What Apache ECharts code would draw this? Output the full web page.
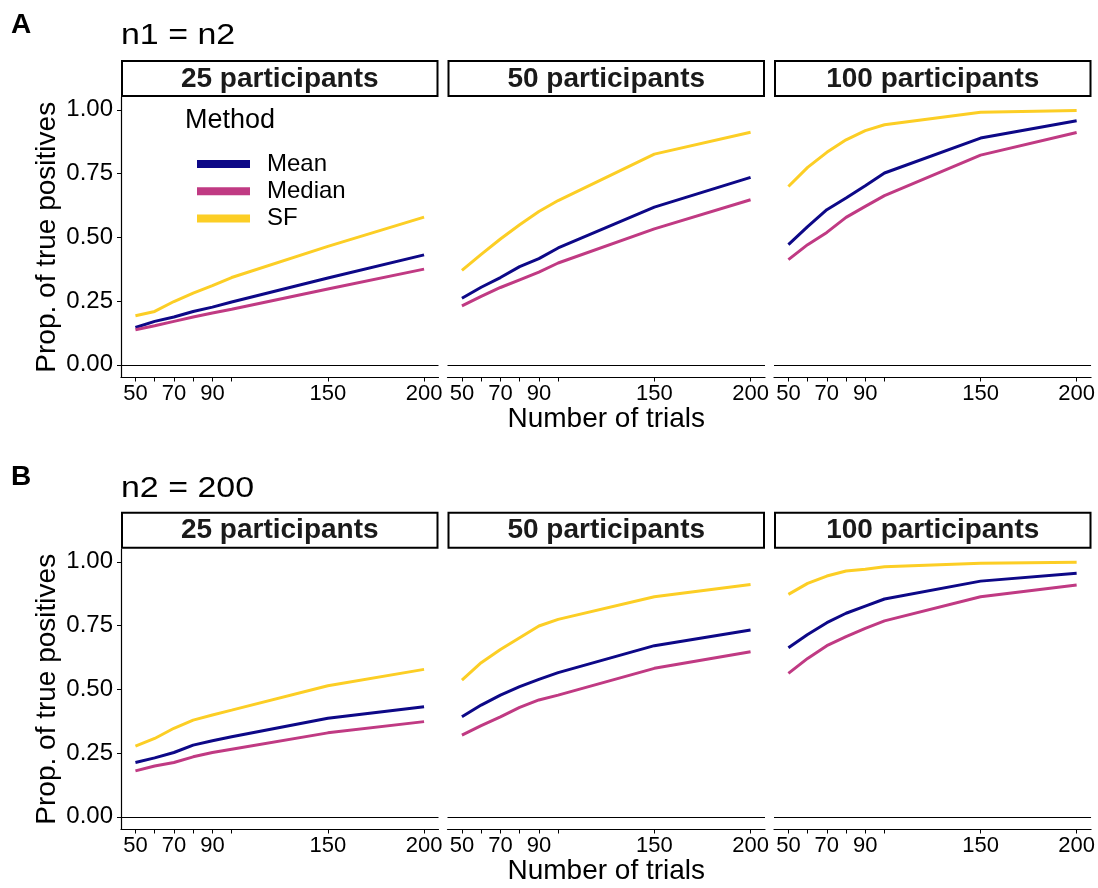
<!DOCTYPE html>
<html>
<head>
<meta charset="utf-8">
<script src="https://cdn.jsdelivr.net/npm/echarts@6/dist/echarts.min.js"></script>
<style>
html,body{margin:0;padding:0;background:#fff;}
#chart{width:1098px;height:888px;}
</style>
</head>
<body>
<div id="chart"></div>
<script>
// ---- data ----
const trials = [50, 60, 70, 80, 90, 100, 150, 200];
const xTickValues = [50, 60, 70, 80, 90, 100, 150, 200];
const xTickLabels = [50, 70, 90, 150, 200];
const yTickValues = [0, 0.25, 0.5, 0.75, 1];
const methods = ['Mean', 'Median', 'SF'];
const panelLabels = ['25 participants', '50 participants', '100 participants'];
const rowTags = ['A', 'B'];
const rowTitles = ['n1 = n2', 'n2 = 200'];

// Row A: n1 = n2
const a25Mean   = [0.146, 0.170, 0.187, 0.209, 0.226, 0.246, 0.340, 0.431];
const a25Median = [0.137, 0.153, 0.170, 0.187, 0.203, 0.218, 0.297, 0.375];
const a25SF     = [0.192, 0.209, 0.248, 0.281, 0.310, 0.342, 0.464, 0.579];
const a50Mean   = [0.261, 0.304, 0.342, 0.385, 0.416, 0.458, 0.618, 0.735];
const a50Median = [0.231, 0.268, 0.303, 0.333, 0.363, 0.399, 0.533, 0.647];
const a50SF     = [0.370, 0.433, 0.493, 0.549, 0.601, 0.644, 0.826, 0.912];
const a100Mean   = [0.471, 0.542, 0.608, 0.654, 0.702, 0.752, 0.889, 0.957];
const a100Median = [0.412, 0.471, 0.519, 0.578, 0.621, 0.663, 0.822, 0.911];
const a100SF     = [0.699, 0.774, 0.833, 0.882, 0.918, 0.941, 0.990, 0.997];
// Row B: n2 = 200
const b25Mean   = [0.213, 0.231, 0.252, 0.281, 0.298, 0.314, 0.386, 0.431];
const b25Median = [0.180, 0.199, 0.213, 0.235, 0.252, 0.265, 0.329, 0.373];
const b25SF     = [0.277, 0.307, 0.347, 0.379, 0.399, 0.418, 0.514, 0.578];
const b50Mean   = [0.392, 0.438, 0.477, 0.510, 0.539, 0.565, 0.671, 0.732];
const b50Median = [0.320, 0.357, 0.392, 0.429, 0.458, 0.477, 0.582, 0.647];
const b50SF     = [0.536, 0.604, 0.656, 0.702, 0.748, 0.774, 0.863, 0.911];
const b100Mean   = [0.663, 0.715, 0.761, 0.798, 0.826, 0.854, 0.924, 0.955];
const b100Median = [0.562, 0.621, 0.671, 0.706, 0.739, 0.768, 0.863, 0.909];
const b100SF     = [0.872, 0.915, 0.944, 0.964, 0.971, 0.980, 0.994, 0.998];

const panelData = [
  [[a25Mean, a25Median, a25SF], [a50Mean, a50Median, a50SF], [a100Mean, a100Median, a100SF]],
  [[b25Mean, b25Median, b25SF], [b50Mean, b50Median, b50SF], [b100Mean, b100Median, b100SF]]
];

// ---- styling / layout ----
const FONT = '"Liberation Sans", Arial, Helvetica, sans-serif';
const colors = { Mean: '#0D0887', Median: '#C03A83', SF: '#FCCE25' };
const gridLefts = [121, 447.5, 774];
const gridWidth = 317.5;
const gridTops = [97, 549];
const gridHeight = 280.5;
const stripTops = [60, 511.7];
const stripHeight = 37;
const tagY = [25, 477.5];
const titleY = [35.5, 488.5];

const grids = [], xAxes = [], yAxes = [], series = [], graphics = [];
let idx = 0;
for (let r = 0; r < 2; r++) {
  graphics.push({
    type: 'text', silent: true, x: 11, y: tagY[r],
    style: { text: rowTags[r], font: 'bold 28px ' + FONT, fill: '#000', verticalAlign: 'middle' }
  });
  graphics.push({
    type: 'text', silent: true, x: 121, y: titleY[r], scaleX: 1.17, scaleY: 1,
    style: { text: rowTitles[r], font: '29px ' + FONT, fill: '#000', verticalAlign: 'middle' }
  });
  for (let c = 0; c < 3; c++) {
    grids.push({ left: gridLefts[c], top: gridTops[r], width: gridWidth, height: gridHeight, containLabel: false });
    const isMidCol = c === 1;
    xAxes.push({
      type: 'value', gridIndex: idx, min: 42.5, max: 207.5,
      name: isMidCol ? 'Number of trials' : '',
      nameLocation: 'middle', nameGap: 21,
      nameTextStyle: { fontFamily: FONT, fontSize: 28, color: '#000' },
      axisLine: { show: true, onZero: false, lineStyle: { color: '#000', width: 1.2 } },
      axisTick: { show: true, length: 4, customValues: xTickValues, lineStyle: { color: '#000', width: 1 } },
      axisLabel: { show: true, customValues: xTickLabels, margin: 5, fontFamily: FONT, fontSize: 22, color: '#000', hideOverlap: false },
      splitLine: { show: false }
    });
    const isFirstCol = c === 0;
    yAxes.push({
      type: 'value', gridIndex: idx, min: -0.05, max: 1.05,
      show: isFirstCol,
      name: isFirstCol ? 'Prop. of true positives' : '',
      nameLocation: 'middle', nameGap: 60,
      nameTextStyle: { fontFamily: FONT, fontSize: 28, color: '#000' },
      axisLine: { show: isFirstCol, onZero: false, lineStyle: { color: '#000', width: 1.2 } },
      axisTick: { show: isFirstCol, length: 4, customValues: yTickValues, lineStyle: { color: '#000', width: 1 } },
      axisLabel: { show: isFirstCol, customValues: yTickValues, margin: 8, fontFamily: FONT, fontSize: 24, color: '#000',
        formatter: v => Number(v).toFixed(2) },
      splitLine: { show: false }
    });
    methods.forEach((m, k) => {
      const s = {
        type: 'line', name: m, xAxisIndex: idx, yAxisIndex: idx,
        data: trials.map((t, i) => [t, panelData[r][c][k][i]]),
        showSymbol: false, symbol: 'none', silent: true,
        lineStyle: { color: colors[m], width: 3 },
        itemStyle: { color: colors[m] },
        z: 3
      };
      if (k === 0) {
        s.markLine = {
          silent: true, symbol: ['none', 'none'], animation: false,
          label: { show: false },
          lineStyle: { color: '#000', width: 1, type: 'solid' },
          data: [{ yAxis: 0 }]
        };
      }
      series.push(s);
    });
    // strip box
    graphics.push({
      type: 'rect', silent: true,
      shape: { x: gridLefts[c] + 1, y: stripTops[r] + 1, width: gridWidth - 2, height: stripHeight - 2 },
      style: { fill: '#fff', stroke: '#000', lineWidth: 2 }
    });
    graphics.push({
      type: 'text', silent: true,
      x: gridLefts[c] + gridWidth / 2, y: stripTops[r] + stripHeight / 2 + 0.5,
      style: { text: panelLabels[c], font: 'bold 28px ' + FONT, fill: '#1A1A1A', align: 'center', verticalAlign: 'middle' }
    });
    idx++;
  }
}
// legend title
graphics.push({
  type: 'text', silent: true, x: 185, y: 120.5,
  style: { text: 'Method', font: '27px ' + FONT, fill: '#000', verticalAlign: 'middle' }
});

const chart = echarts.init(document.getElementById('chart'), null, { renderer: 'canvas' });
chart.setOption({
  backgroundColor: '#fff',
  animation: false,
  grid: grids,
  xAxis: xAxes,
  yAxis: yAxes,
  legend: {
    data: methods.map(m => ({ name: m, icon: 'rect', itemStyle: { color: colors[m] } })),
    orient: 'vertical', left: 192, top: 147,
    itemWidth: 53, itemHeight: 8, itemGap: 3.3,
    selectedMode: false,
    textStyle: { fontFamily: FONT, fontSize: 24, color: '#000', padding: [0, 0, 0, 12] }
  },
  graphic: graphics,
  series: series
});
</script>
</body>
</html>
